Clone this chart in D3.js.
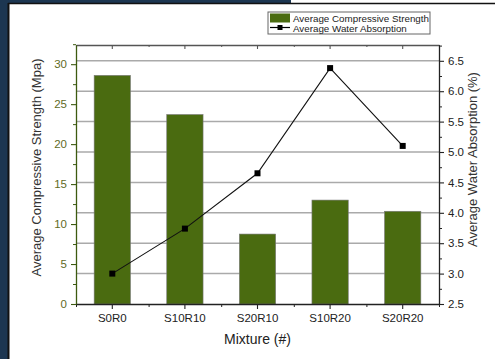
<!DOCTYPE html>
<html>
<head>
<meta charset="utf-8">
<script src="https://cdn.jsdelivr.net/npm/d3@7"></script>
<style>
  body { margin: 0; background: #fff; }
  svg { display: block; font-family: "Liberation Sans", Arial, sans-serif; }
</style>
</head>
<body>
<div id="chart"></div>
<script>
// data
var categories = ["S0R0", "S10R10", "S20R10", "S10R20", "S20R20"];
var strength = [28.6, 23.7, 8.75, 13.0, 11.6];
var absorption = [3.0, 3.74, 4.65, 6.38, 5.10];
var leftTicks = [0, 5, 10, 15, 20, 25, 30];
var rightTicks = [2.5, 3.0, 3.5, 4.0, 4.5, 5.0, 5.5, 6.0, 6.5];

var W = 495, H = 359;
var plot = {left: 76, right: 439, top: 45, bottom: 304};
var green = "#4a6b10";

var svg = d3.select("#chart").append("svg")
    .attr("width", W)
    .attr("height", H);

// dark frame round the picture
svg.append("rect").attr("x", 0).attr("y", 0).attr("width", 8).attr("height", H).attr("fill", "#1c3651");
svg.append("rect").attr("x", 0).attr("y", 0).attr("width", 291).attr("height", 3).attr("fill", "#1c3651");
svg.append("line").attr("x1", 8).attr("x2", W).attr("y1", 3.5).attr("y2", 3.5)
    .attr("stroke", "#111").attr("stroke-width", 1.5);
svg.append("line").attr("x1", 8.5).attr("x2", 8.5).attr("y1", 3).attr("y2", H)
    .attr("stroke", "#111").attr("stroke-width", 2);

var x = d3.scaleBand().domain(categories).range([plot.left, plot.right]).padding(0);
var yL = d3.scaleLinear().domain([0, 32.4]).range([plot.bottom, plot.top]);
var yR = d3.scaleLinear().domain([2.5, 6.76]).range([plot.bottom, plot.top]);
var cx = function (c) { return x(c) + x.bandwidth() / 2; };

// gridlines from the right axis
svg.append("g").selectAll("line")
    .data(rightTicks.slice(1))
    .join("line")
    .attr("x1", plot.left).attr("x2", plot.right)
    .attr("y1", d => yR(d)).attr("y2", d => yR(d))
    .attr("stroke", "#aaa").attr("stroke-width", 1.5);

// bars
svg.append("g").selectAll("rect")
    .data(categories)
    .join("rect")
    .attr("x", (d) => cx(d) - x.bandwidth() / 4)
    .attr("width", x.bandwidth() / 2)
    .attr("y", (d, i) => yL(strength[i]))
    .attr("height", (d, i) => plot.bottom - yL(strength[i]))
    .attr("fill", green)
    .attr("stroke", "#777").attr("stroke-width", 0.6);

// line + markers
var line = d3.line().x((d, i) => cx(categories[i])).y(d => yR(d));
svg.append("path").datum(absorption)
    .attr("d", line).attr("fill", "none").attr("stroke", "#111").attr("stroke-width", 1.1);
svg.append("g").selectAll("rect")
    .data(absorption)
    .join("rect")
    .attr("x", (d, i) => cx(categories[i]) - 3)
    .attr("y", d => yR(d) - 3)
    .attr("width", 6).attr("height", 6)
    .attr("fill", "#000");

// axes
function styleAxis(g, color, labelColor) {
    g.select(".domain").attr("stroke", color).attr("stroke-width", 1.3);
    g.selectAll(".tick line").attr("stroke", color).attr("stroke-width", 1.1);
    g.selectAll(".tick text").attr("fill", labelColor).attr("font-size", 11.5)
        .attr("font-family", "Liberation Sans, Arial, sans-serif");
}

var bounds = d3.range(categories.length + 1).map(i => plot.left + i * x.bandwidth());

// top axis (ticks inward)
var gTop = svg.append("g").attr("transform", `translate(0,${plot.top})`);
gTop.append("g").call(d3.axisTop(x).tickSize(-4).tickSizeOuter(0).tickFormat(""))
    .call(g => styleAxis(g, "#555", "#000"));
gTop.append("g").call(d3.axisTop(d3.scaleIdentity()).tickValues(bounds).tickSize(-2).tickSizeOuter(0).tickFormat(""))
    .call(g => { g.select(".domain").remove(); g.selectAll(".tick line").attr("stroke", "#555"); });
gTop.select(".domain").attr("stroke-width", 1.6);

// bottom axis
var gBot = svg.append("g").attr("transform", `translate(0,${plot.bottom})`);
gBot.append("g").call(d3.axisBottom(x).tickSize(5).tickSizeOuter(0).tickPadding(5))
    .call(g => styleAxis(g, "#222", "#222"));
gBot.append("g").call(d3.axisBottom(d3.scaleIdentity()).tickValues(bounds).tickSize(3).tickSizeOuter(0).tickFormat(""))
    .call(g => { g.select(".domain").remove(); g.selectAll(".tick line").attr("stroke", "#222"); });

// left axis
var gLeft = svg.append("g").attr("transform", `translate(${plot.left},0)`);
gLeft.append("g").call(d3.axisLeft(yL).tickValues(leftTicks).tickSize(5).tickSizeOuter(0).tickPadding(4))
    .call(g => styleAxis(g, "#3d5a10", "#5f6b1e"));
gLeft.append("g").call(d3.axisLeft(yL).tickValues(leftTicks.map(d => d + 2.5)).tickSize(3).tickSizeOuter(0).tickFormat(""))
    .call(g => { g.select(".domain").remove(); g.selectAll(".tick line").attr("stroke", "#3d5a10"); });

// right axis
var gRight = svg.append("g").attr("transform", `translate(${plot.right},0)`);
gRight.append("g").call(d3.axisRight(yR).tickValues(rightTicks).tickSize(5).tickSizeOuter(0).tickPadding(4).tickFormat(d3.format(".1f")))
    .call(g => styleAxis(g, "#222", "#222"));
gRight.append("g").call(d3.axisRight(yR).tickValues(rightTicks.map(d => d + 0.25)).tickSize(3).tickSizeOuter(0).tickFormat(""))
    .call(g => { g.select(".domain").remove(); g.selectAll(".tick line").attr("stroke", "#222"); });

// titles
svg.append("text")
    .attr("transform", `translate(41,${(plot.top + plot.bottom) / 2 - 7}) rotate(-90)`)
    .attr("text-anchor", "middle").attr("font-size", 13).attr("fill", "#333")
    .text("Average Compressive Strength (Mpa)");
svg.append("text")
    .attr("transform", `translate(477,${(plot.top + plot.bottom) / 2 - 15}) rotate(-90)`)
    .attr("text-anchor", "middle").attr("font-size", 13).attr("fill", "#333")
    .text("Average Water Absorption (%)");
svg.append("text")
    .attr("x", (plot.left + plot.right) / 2).attr("y", 344)
    .attr("text-anchor", "middle").attr("font-size", 14).attr("fill", "#222")
    .text("Mixture (#)");

// legend
var lg = svg.append("g").attr("transform", "translate(268,12)");
lg.append("rect").attr("width", 162).attr("height", 22)
    .attr("fill", "#fff").attr("stroke", "#666").attr("stroke-width", 1);
lg.append("rect").attr("x", 2).attr("y", 1.5).attr("width", 20).attr("height", 9).attr("fill", green);
lg.append("line").attr("x1", 2).attr("x2", 22).attr("y1", 15.5).attr("y2", 15.5)
    .attr("stroke", "#000").attr("stroke-width", 1.2);
lg.append("rect").attr("x", 9.5).attr("y", 13).attr("width", 5).attr("height", 5).attr("fill", "#000");
lg.append("text").attr("x", 25).attr("y", 9.5).attr("font-size", 9.8).attr("fill", "#222")
    .text("Average Compressive Strength");
lg.append("text").attr("x", 25).attr("y", 19.5).attr("font-size", 9.8).attr("fill", "#222")
    .text("Average Water Absorption");
</script>
</body>
</html>
